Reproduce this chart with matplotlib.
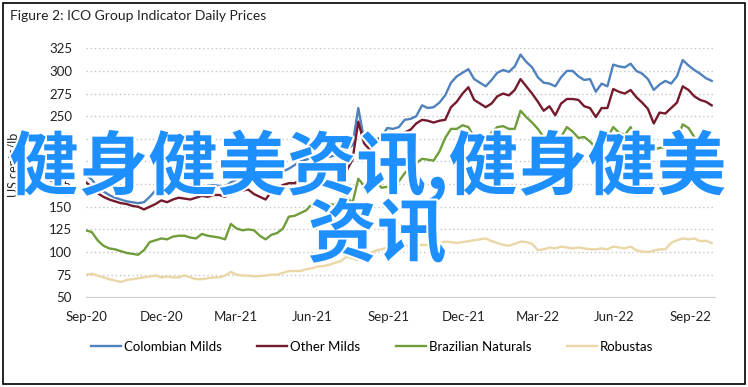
import pandas as pd
import matplotlib
matplotlib.use("Agg")
import matplotlib.pyplot as plt
import matplotlib.dates as mdates
import matplotlib.patheffects as pe
from matplotlib.patches import Rectangle

plt.rcParams['font.family'] = ['Lato', 'DejaVu Sans']

# --- data (weekly readings, US cents/lb) ---
dates = pd.date_range('2020-09-01', periods=109, freq='7D')

colombian = [185, 180, 172, 167, 163, 160, 158, 156, 155, 154, 155, 161, 168, 175, 173, 171, 173, 172, 174, 175,
             172, 173, 174, 173, 172, 177, 180, 181, 182,
             178, 176, 180, 183, 186, 189, 192, 196, 200, 202, 205, 205, 206, 205, 207, 209, 213, 218, 259, 224,
             221, 224, 227, 237, 236, 238, 246, 247,
             250, 262, 259, 260, 265, 273, 287, 294, 298, 302, 291, 287, 283, 290, 298, 301, 299, 305, 318, 310,
             304, 293, 287, 286, 283, 293, 300,
             300, 294, 290, 291, 277, 286, 283, 307, 305, 304, 308, 300, 297, 291, 279, 285, 289, 286, 294, 312,
             306, 301, 297, 292, 289]
other = [177, 172, 165, 161, 158, 156, 154, 153, 151, 150, 147, 150, 153, 157, 155, 158, 160, 159, 158, 160,
         162, 161, 163, 163, 161, 166, 167, 168, 169,
         164, 161, 158, 167, 171, 174, 176, 176, 180, 188, 194, 195, 196, 193, 195, 200, 190, 202, 244, 220,
         213, 218, 228, 224, 227, 229, 232, 235,
         242, 246, 245, 243, 245, 246, 260, 266, 275, 282, 268, 264, 260, 264, 272, 275, 273, 279, 291, 283,
         275, 266, 256, 261, 251, 264, 269,
         269, 268, 261, 259, 249, 259, 259, 280, 277, 275, 279, 271, 265, 258, 242, 254, 253, 259, 265, 283,
         279, 272, 268, 266, 262]
brazilian = [124, 122, 113, 107, 104, 103, 101, 99, 98, 97, 102, 111, 113, 115, 114, 117, 118, 118, 116, 115,
             120, 118, 117, 116, 114, 131, 126, 124, 125,
             124, 118, 114, 119, 121, 126, 139, 140, 143, 146, 153, 150, 151, 153, 152, 159, 161, 154, 181, 173,
             178, 179, 171, 172, 172, 178, 187, 194,
             198, 203, 202, 201, 211, 226, 236, 236, 240, 238, 227, 226, 224, 232, 238, 239, 236, 236, 256, 249,
             243, 236, 227, 224, 218, 227, 238,
             233, 226, 227, 222, 215, 218, 226, 238, 232, 229, 238, 226, 222, 217, 213, 215, 216, 217, 224, 241,
             237, 227, 220, 216, 215]
robustas = [75, 76, 74, 72, 70, 68.5, 67, 69, 70, 71, 72, 73, 74, 72, 73, 72, 72, 74, 72, 70,
            70, 71, 72, 72, 74, 78, 75, 74, 74,
            73, 73.5, 74, 75, 75, 77, 79, 79, 79, 81, 82, 84, 84.5, 86, 88, 90, 95, 93, 91, 95,
            99, 101.5, 103, 105, 106, 107, 107.5, 106,
            107, 108, 107.5, 108, 110, 111.5, 111, 110, 111, 112, 113, 114, 115, 112, 110, 108, 107, 109, 111.5, 111,
            109, 102, 103, 105, 104, 106, 105,
            104, 105, 104, 103, 103, 104, 103, 106, 105, 104, 106, 102, 100.5, 100, 101.5, 103, 103, 110, 113, 115,
            114, 115, 112, 112.5, 110]

series = [('Colombian Milds', colombian, '#4f81bd'),
          ('Other Milds', other, '#751a2c'),
          ('Brazilian Naturals', brazilian, '#6f9d3c'),
          ('Robustas', robustas, '#ead6a6')]

# --- figure ---
fig = plt.figure(figsize=(7.48, 3.87), dpi=100)
fig.patches.append(Rectangle((3 / 748, 3 / 387), 742 / 748, 381 / 387, transform=fig.transFigure,
                             fill=False, edgecolor='black', linewidth=1.2))

ax = fig.add_axes([86 / 748, 1 - 297.3 / 387, 629 / 748, 249 / 387])
for name, vals, col in series:
    ax.plot(dates, vals, color=col, linewidth=1.7, label=name)

ax.set_ylim(50, 325)
ax.set_yticks(range(50, 326, 25))
ax.set_xlim(pd.Timestamp('2020-09-01'), pd.Timestamp('2022-10-01'))
ax.set_xticks(pd.date_range('2020-09-01', '2022-09-01', freq='3MS'))
ax.xaxis.set_major_formatter(mdates.DateFormatter('%b-%y'))
ax.tick_params(length=0, labelsize=9.5, colors='#222222')
ax.tick_params(axis='y', pad=10)
ax.tick_params(axis='x', pad=10)
ax.grid(axis='y', linestyle=(0, (1, 2)), color='#c4c4c4', linewidth=1)
for s in ['top', 'right', 'left']:
    ax.spines[s].set_visible(False)
ax.spines['bottom'].set_color('#d0d0d0')

fig.text(10 / 748, 1 - 16 / 387, 'Figure 2: ICO Group Indicator Daily Prices', fontsize=10,
         va='center', ha='left', color='#222222')
fig.text(14 / 748, 1 - 165 / 387, 'US cents/lb', rotation=90, fontsize=9, va='center', ha='center',
         color='#222222')

fig.legend(loc='center', bbox_to_anchor=(372 / 748, 1 - 347 / 387), ncol=4, frameon=False,
           fontsize=9.5, handlelength=2.3, handletextpad=0.2, columnspacing=2.7)

# overlay watermark text
stroke = [pe.withStroke(linewidth=3, foreground='white')]
fig.text(368 / 748, 1 - 167 / 387, '健身健美资讯,健身健美', fontsize=50, fontweight='bold',
         family=['Noto Sans CJK SC', 'DejaVu Sans'], color='#1e8fff', ha='center', va='center',
         path_effects=stroke)
fig.text(377 / 748, 1 - 236 / 387, '资讯', fontsize=50, fontweight='bold',
         family=['Noto Sans CJK SC', 'DejaVu Sans'], color='#1e8fff', ha='center', va='center',
         path_effects=stroke)

fig.savefig('out.png', dpi=100)
